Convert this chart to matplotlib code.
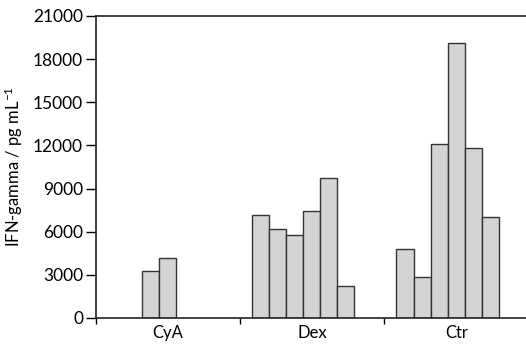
import matplotlib.pyplot as plt
import numpy as np

plt.rcParams['font.family'] = ['Lato', 'DejaVu Sans']
plt.rcParams['mathtext.default'] = 'regular'

# groups and values (6 bar slots per group)
groups = ['CyA', 'Dex', 'Ctr']
values = [
    [0, 0, 3300, 4200, 0, 0],
    [7150, 6170, 5750, 7440, 9720, 2250],
    [4800, 2830, 12100, 19100, 11800, 7020],
]
yticks = [0, 3000, 6000, 9000, 12000, 15000, 18000, 21000]

fig = plt.figure(figsize=(5.26, 3.44), dpi=100)
ax = fig.add_axes([0.1816, 0.0756, 0.824, 0.878])

bar_w = 0.118
start = -0.5 + 0.083
for i, vals in enumerate(values):
    for j, v in enumerate(vals):
        if v > 0:
            ax.bar(i + start + j * bar_w, v, width=bar_w, align='edge',
                   color='#d4d4d4', edgecolor='#333333', linewidth=1.0)

ax.set_xlim(-0.5, 2.5)
ax.set_ylim(0, 21000)
ax.set_yticks(yticks)
ax.set_yticklabels([str(t) for t in yticks])
ax.set_xticks([0, 1, 2])
ax.set_xticklabels(groups)
ax.set_xticks([-0.5, 0.5, 1.5], minor=True)
ax.tick_params(axis='x', which='major', length=0, pad=5, labelsize=12)
ax.tick_params(axis='x', which='minor', length=4, width=1, direction='out')
ax.tick_params(axis='y', length=7, width=1, direction='out', labelsize=12.5, pad=2)
ax.spines['right'].set_visible(False)
for s in ['left', 'bottom', 'top']:
    ax.spines[s].set_linewidth(1.2)
    ax.spines[s].set_color('#222222')
ax.set_ylabel('IFN-gamma / pg mL$^{-1}$', fontsize=12, labelpad=6)

fig.savefig('out.png', dpi=100)
